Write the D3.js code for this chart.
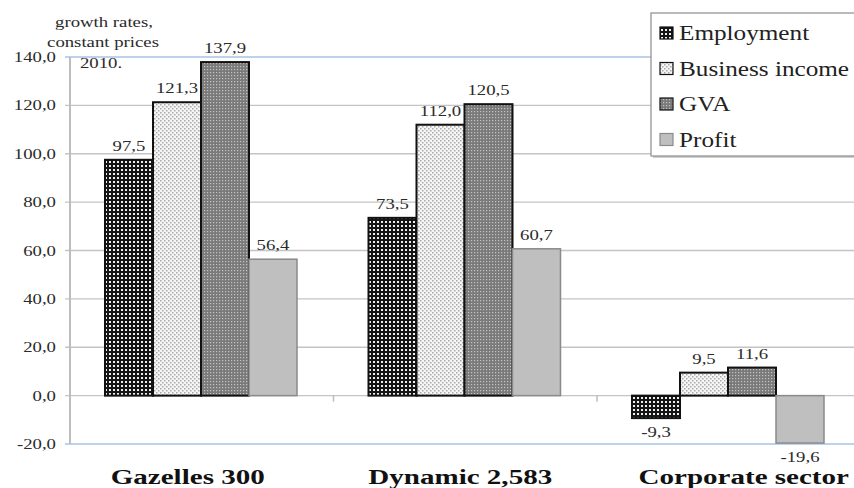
<!DOCTYPE html>
<html><head><meta charset="utf-8">
<script src="https://cdn.jsdelivr.net/npm/d3@7"></script>
<style>body{margin:0;background:#fff}svg{display:block}</style>
</head><body><svg id="c" width="854" height="488"></svg>
<script>
const categories = ["Gazelles 300", "Dynamic 2,583", "Corporate sector"];
const seriesNames = ["Employment", "Business income", "GVA", "Profit"];
const employment = [97.5, 73.5, -9.3];
const businessIncome = [121.3, 112.0, 9.5];
const gva = [137.9, 120.5, 11.6];
const profit = [56.4, 60.7, -19.6];
const yTicks = [-20, 0, 20, 40, 60, 80, 100, 120, 140];
const annotation = ["growth rates,", "constant prices", "2010."];

const series = [employment, businessIncome, gva, profit];
const SX = 1.25;
const catLabelShift = [-14, -5, 15];
const svg = d3.select("#c");
const fmt = v => d3.format(".1f")(v).replace(".", ",").replace("−", "-");

const x0 = d3.scaleBand().domain(categories).range([70, 860.5]);
const x1 = d3.scaleBand().domain(seriesNames).range([35, 227]);
const y = d3.scaleLinear().domain([-20, 140]).range([444, 57]);

// patterns
const defs = svg.append("defs");
const p1 = defs.append("pattern").attr("id", "pEmp").attr("patternUnits", "userSpaceOnUse").attr("width", 4).attr("height", 4);
p1.append("rect").attr("width", 4).attr("height", 4).attr("fill", "#151515");
p1.append("rect").attr("x", 1).attr("y", 1).attr("width", 2).attr("height", 2).attr("fill", "#f0f0f0");
const p2 = defs.append("pattern").attr("id", "pBus").attr("patternUnits", "userSpaceOnUse").attr("width", 4).attr("height", 4);
p2.append("rect").attr("width", 4).attr("height", 4).attr("fill", "#f6f6f6");
p2.append("rect").attr("x", 0).attr("y", 0).attr("width", 1.5).attr("height", 1.5).attr("fill", "#a8a8a8");
p2.append("rect").attr("x", 2).attr("y", 2).attr("width", 1.5).attr("height", 1.5).attr("fill", "#a8a8a8");
const p3 = defs.append("pattern").attr("id", "pGva").attr("patternUnits", "userSpaceOnUse").attr("width", 3).attr("height", 3);
p3.append("rect").attr("width", 3).attr("height", 3).attr("fill", "#7a7a7a");
p3.append("rect").attr("x", 0).attr("y", 0).attr("width", 1.2).attr("height", 1.2).attr("fill", "#c4c4c4");
const fills = ["url(#pEmp)", "url(#pBus)", "url(#pGva)", "#bfbfbf"];
const strokes = ["#111", "#111", "#111", "#8a8a8a"];

// gridlines
svg.append("g").selectAll("line").data(yTicks).join("line")
  .attr("x1", 65).attr("x2", 854)
  .attr("y1", d => y(d)).attr("y2", d => y(d))
  .attr("stroke", d => (d === 140 || d === -20) ? "#a9c4e4" : "#c4c4c4")
  .attr("stroke-width", 1.3);
// y axis line
svg.append("line").attr("x1", 70).attr("x2", 70).attr("y1", y(140)).attr("y2", y(-20))
  .attr("stroke", "#bdbdbd").attr("stroke-width", 2);
// x ticks at band boundaries
svg.append("g").selectAll("line").data(categories.slice(1)).join("line")
  .attr("x1", d => x0(d)).attr("x2", d => x0(d))
  .attr("y1", y(0)).attr("y2", y(0) + 6)
  .attr("stroke", "#bdbdbd").attr("stroke-width", 1.5);

function txt(g, x, yy, s, anchor, size, weight, color, sx) {
  return g.append("text").attr("transform", `translate(${x},${yy}) scale(${sx || SX},1)`)
    .attr("text-anchor", anchor)
    .style("font-family", '"Liberation Serif"')
    .style("font-size", size + "px")
    .style("font-weight", weight || "normal").attr("fill", color || "#333").text(s);
}

// y tick labels
const yl = svg.append("g");
yTicks.forEach(t => txt(yl, 56, y(t) + 5, fmt(t), "end", 15, "normal", "#2a2a2a"));

// bars
const gBars = svg.append("g");
series.forEach((vals, si) => {
  vals.forEach((v, ci) => {
    const bx = x0(categories[ci]) + x1(seriesNames[si]);
    gBars.append("rect")
      .attr("x", bx).attr("width", x1.bandwidth())
      .attr("y", y(Math.max(0, v))).attr("height", Math.abs(y(v) - y(0)))
      .attr("fill", fills[si]).attr("stroke", strokes[si]).attr("stroke-width", si === 3 ? 1.5 : 2);
    const ly = v >= 0 ? y(v) - 9 : y(v) + 19;
    txt(gBars, bx + x1.bandwidth() / 2, ly, fmt(v), "middle", 15, "normal", "#2a2a2a");
  });
});

// category labels
const gc = svg.append("g");
categories.forEach((c, i) => txt(gc, x0(c) + x0.bandwidth() / 2 + catLabelShift[i], 484, c, "middle", 22, "bold", "#111", 1.32));

// annotation
const ga = svg.append("g");
txt(ga, 104, 27, annotation[0], "middle", 15, "normal", "#2a2a2a");
txt(ga, 103, 47, annotation[1], "middle", 15, "normal", "#2a2a2a");
txt(ga, 80, 68, annotation[2], "start", 15, "normal", "#2a2a2a");

// legend
const lg = svg.append("g");
lg.append("rect").attr("x", 653).attr("y", 15).attr("width", 210).attr("height", 143).attr("fill", "#cfcfcf");
lg.append("rect").attr("x", 651).attr("y", 13).attr("width", 210).attr("height", 143)
  .attr("fill", "#fff").attr("stroke", "#8c8c8c").attr("stroke-width", 1.2);
seriesNames.forEach((n, i) => {
  const ry = 40 + i * 35.5;
  lg.append("rect").attr("x", 660).attr("y", ry - 13).attr("width", 13).attr("height", 12)
    .attr("fill", fills[i]).attr("stroke", strokes[i]).attr("stroke-width", 1.2);
  txt(lg, 679, ry, n, "start", 21, "normal", "#222", 1.2);
});
</script></body></html>
